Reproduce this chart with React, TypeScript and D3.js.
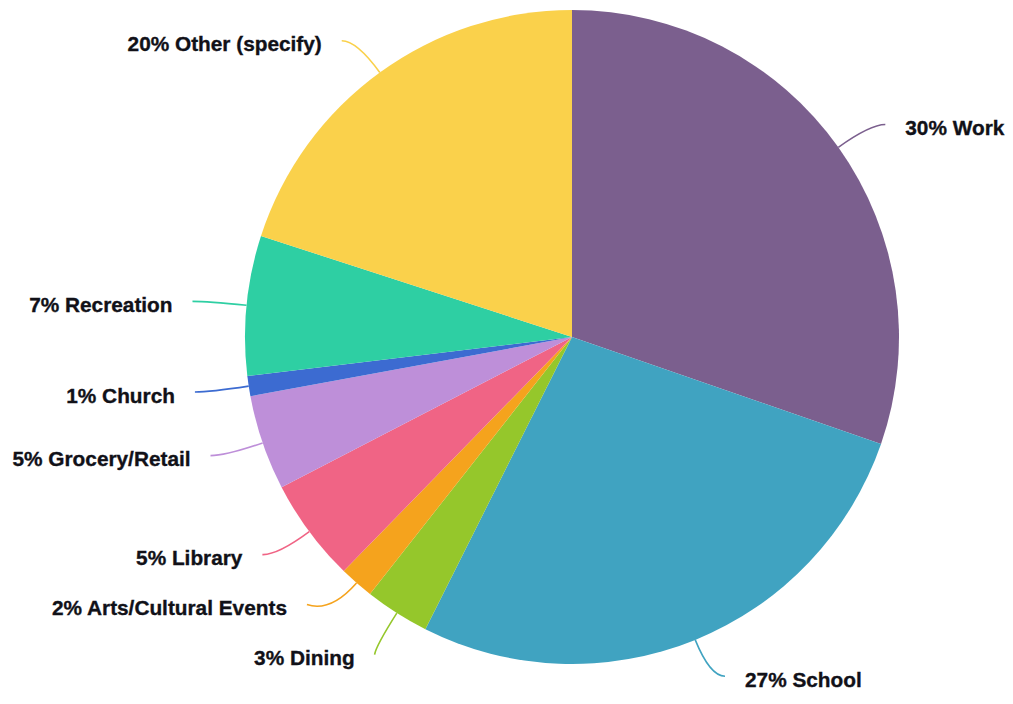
import { useEffect, useRef } from 'react';
import * as d3 from 'd3';

const categories = ['Work', 'School', 'Dining', 'Arts/Cultural Events', 'Library', 'Grocery/Retail', 'Church', 'Recreation', 'Other (specify)'];
const values = [30.3, 27.1, 3.2, 1.7, 5.1, 4.7, 1.0, 6.9, 20.0];
const colors = ['#7b5f8e', '#40a3c1', '#95c72b', '#f5a31d', '#f06485', '#be8fd9', '#3c6bd1', '#2ecfa3', '#fad14b'];

interface Slice {
  name: string;
  value: number;
}

interface Label {
  i: number;
  sx: number;
  sy: number;
  side: number;
  y: number;
  x: number;
  text: string;
}

export default function App() {
  const svgRef = useRef<SVGSVGElement>(null);

  useEffect(() => {
    if (!svgRef.current) return;

    const width = 1013;
    const height = 704;
    const cx = 572;
    const cy = 337;
    const r = 327;
    const bendR = r * 1.12;
    const gap = 50;

    const svg = d3.select(svgRef.current).attr('width', width).attr('height', height);
    svg.selectAll('*').remove();

    const data: Slice[] = categories.map((c, i) => ({ name: c, value: values[i] }));

    const pie = d3.pie<Slice>().value(d => d.value).sort(null);
    const arcs = pie(data);
    const arc = d3.arc<d3.PieArcDatum<Slice>>().innerRadius(0).outerRadius(r);

    const g = svg.append('g').attr('transform', `translate(${cx},${cy})`);

    g.selectAll('path.slice')
      .data(arcs)
      .enter()
      .append('path')
      .attr('class', 'slice')
      .attr('d', arc)
      .attr('fill', (d, i) => colors[i]);

    const labels: Label[] = arcs.map((a, i) => {
      const mid = (a.startAngle + a.endAngle) / 2;
      const sx = Math.sin(mid);
      const sy = -Math.cos(mid);
      return {
        i,
        sx,
        sy,
        side: sx >= 0 ? 1 : -1,
        y: bendR * sy,
        x: 0,
        text: `${Math.round(a.data.value)}% ${a.data.name}`,
      };
    });

    // spread overlapping labels: merge into clusters and centre each cluster
    [1, -1].forEach(side => {
      const list = labels.filter(l => l.side === side).sort((a, b) => a.y - b.y);
      let clusters: { items: Label[]; ideal: number[] }[] = list.map(l => ({ items: [l], ideal: [l.y] }));
      const place = (c: { items: Label[]; ideal: number[] }) => {
        const mean = d3.mean(c.ideal.map((v, k) => v - k * gap)) as number;
        c.items.forEach((l, k) => (l.y = mean + k * gap));
      };
      let changed = true;
      while (changed) {
        changed = false;
        clusters.forEach(place);
        for (let k = 0; k < clusters.length - 1; k++) {
          const a = clusters[k];
          const b = clusters[k + 1];
          if (b.items[0].y - a.items[a.items.length - 1].y < gap) {
            clusters = [
              ...clusters.slice(0, k),
              { items: [...a.items, ...b.items], ideal: [...a.ideal, ...b.ideal] },
              ...clusters.slice(k + 2),
            ];
            changed = true;
            break;
          }
        }
      }
    });

    labels.forEach(l => {
      const dy = Math.max(-bendR, Math.min(bendR, l.y));
      l.x = l.side * (Math.sqrt(bendR * bendR - dy * dy) + 15);
    });

    labels.forEach(l => {
      const ex = r * l.sx;
      const ey = r * l.sy;
      const qx = bendR * l.sx;
      const qy = bendR * l.sy;
      const p = d3.path();
      p.moveTo(ex, ey);
      p.quadraticCurveTo(qx, qy, l.x, l.y);
      g.append('path')
        .attr('d', p.toString())
        .attr('fill', 'none')
        .attr('stroke', colors[l.i])
        .attr('stroke-width', 1.6);

      g.append('text')
        .attr('x', l.x + l.side * 20)
        .attr('y', l.y + 3)
        .attr('text-anchor', l.side > 0 ? 'start' : 'end')
        .attr('dominant-baseline', 'central')
        .style('font-family', '"Liberation Sans", Arial, sans-serif')
        .style('font-size', '20.8px')
        .style('font-weight', 'bold')
        .style('fill', '#111118')
        .style('stroke', '#111118')
        .style('stroke-width', 0.35)
        .text(l.text);
    });
  }, []);

  return (
    <svg
      ref={svgRef}
      width={1013}
      height={704}
      style={{ position: 'absolute', left: 0, top: 0, background: '#fff' }}
    />
  );
}
